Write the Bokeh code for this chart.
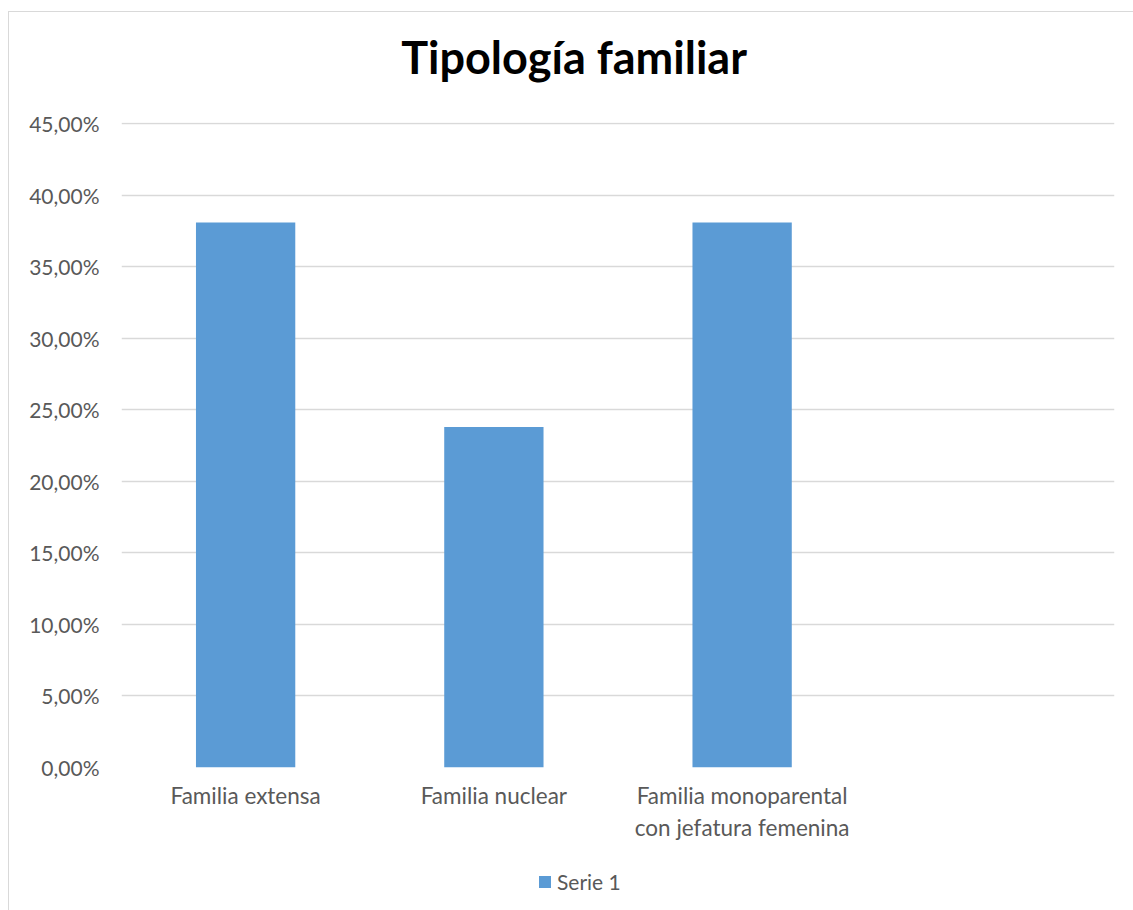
from bokeh.plotting import figure
from bokeh.layouts import column
from bokeh.models import (ColumnDataSource, FactorRange, Range1d, Legend, LegendItem,
                          CustomJSTickFormatter, FixedTicker, Label)
from bokeh.embed import file_html
from bokeh.resources import INLINE

categories = ["Familia extensa", "Familia nuclear",
              "Familia monoparental\ncon jefatura femenina", " "]
values = [38.10, 23.81, 38.10, 0.0]
y_ticks = [0, 5, 10, 15, 20, 25, 30, 35, 40, 45]
series_name = "Serie 1"
title_text = "Tipología familiar"

FONT = "Lato"
TXT = "#595959"
BAR = "#5B9BD5"
GRID = "#D9D9D9"
W = 1125

src = ColumnDataSource(dict(cat=categories[:3], val=values[:3]))
x_rng = FactorRange(*categories)


def bare(fig):
    fig.outline_line_color = None
    fig.background_fill_color = "white"
    fig.border_fill_color = "white"
    fig.grid.visible = False


# --- title strip ---
H0 = 91
p0 = figure(width=W, height=H0, x_range=Range1d(0, W), y_range=Range1d(0, H0),
            x_axis_location=None, y_axis_location=None, output_backend="svg",
            toolbar_location=None, min_border=0)
p0.margin = (11, 0, 0, 8)
p0.styles = {"border-left": "1px solid #D9D9D9", "border-top": "1px solid #D9D9D9"}
bare(p0)
p0.add_layout(Label(x=566, y=27, x_offset=-47, y_offset=20, text=title_text,
                    text_align="center", text_baseline="alphabetic", text_font=FONT,
                    text_font_size="45px", text_font_style="bold", text_color="black"))

# --- main chart ---
H1 = 765
p = figure(width=W, height=H1, x_range=x_rng, y_range=Range1d(0, 45.1),
           output_backend="svg", toolbar_location=None,
           min_border_left=112, min_border_right=20, min_border_top=20,
           min_border_bottom=H1 - 20 - 645)
p.margin = (0, 0, 0, 8)
p.styles = {"border-left": "1px solid #D9D9D9"}
p.outline_line_color = None
p.background_fill_color = "white"
p.border_fill_color = "white"

r = p.vbar(x="cat", top="val", width=0.4, source=src, fill_color=BAR, line_color=None)

p.xgrid.grid_line_color = None
p.ygrid.grid_line_color = GRID
p.ygrid.grid_line_width = 1.3
p.ygrid.ticker = FixedTicker(ticks=y_ticks)

p.yaxis.ticker = FixedTicker(ticks=y_ticks)
p.yaxis.formatter = CustomJSTickFormatter(code="return tick.toFixed(2).replace('.', ',') + '%';")
for ax in (p.xaxis[0], p.yaxis[0]):
    ax.axis_line_color = None
    ax.major_tick_line_color = None
    ax.minor_tick_line_color = None
    ax.major_tick_in = 0
    ax.major_tick_out = 0
    ax.major_label_text_font = FONT
    ax.major_label_text_color = TXT
p.yaxis.major_label_text_font_size = "21px"
p.xaxis.major_label_text_font_size = "22.5px"
p.yaxis.major_label_standoff = 22
p.xaxis.major_label_standoff = 14

# --- legend strip ---
H2 = 899 - H0 - H1
p2 = figure(width=W, height=H2, x_range=x_rng, y_range=Range1d(0, 1),
            x_axis_location=None, y_axis_location=None, output_backend="svg",
            toolbar_location=None, min_border=0)
p2.margin = (0, 0, 0, 8)
p2.styles = {"border-left": "1px solid #D9D9D9"}
bare(p2)
r2 = p2.vbar(x="cat", top="val", width=0.4, source=src, fill_color=BAR,
             line_color=None, visible=False)
legend = Legend(items=[LegendItem(label=series_name, renderers=[r2])],
                location=(416, 16), orientation="horizontal",
                label_text_font=FONT, label_text_font_size="21px", label_text_color=TXT,
                glyph_width=15, glyph_height=15, label_standoff=5, padding=0, margin=0,
                border_line_color=None, background_fill_alpha=0)
p2.add_layout(legend, "center")

layout = column(p0, p, p2, spacing=0)
open("out.html", "w").write(file_html(layout, INLINE))
